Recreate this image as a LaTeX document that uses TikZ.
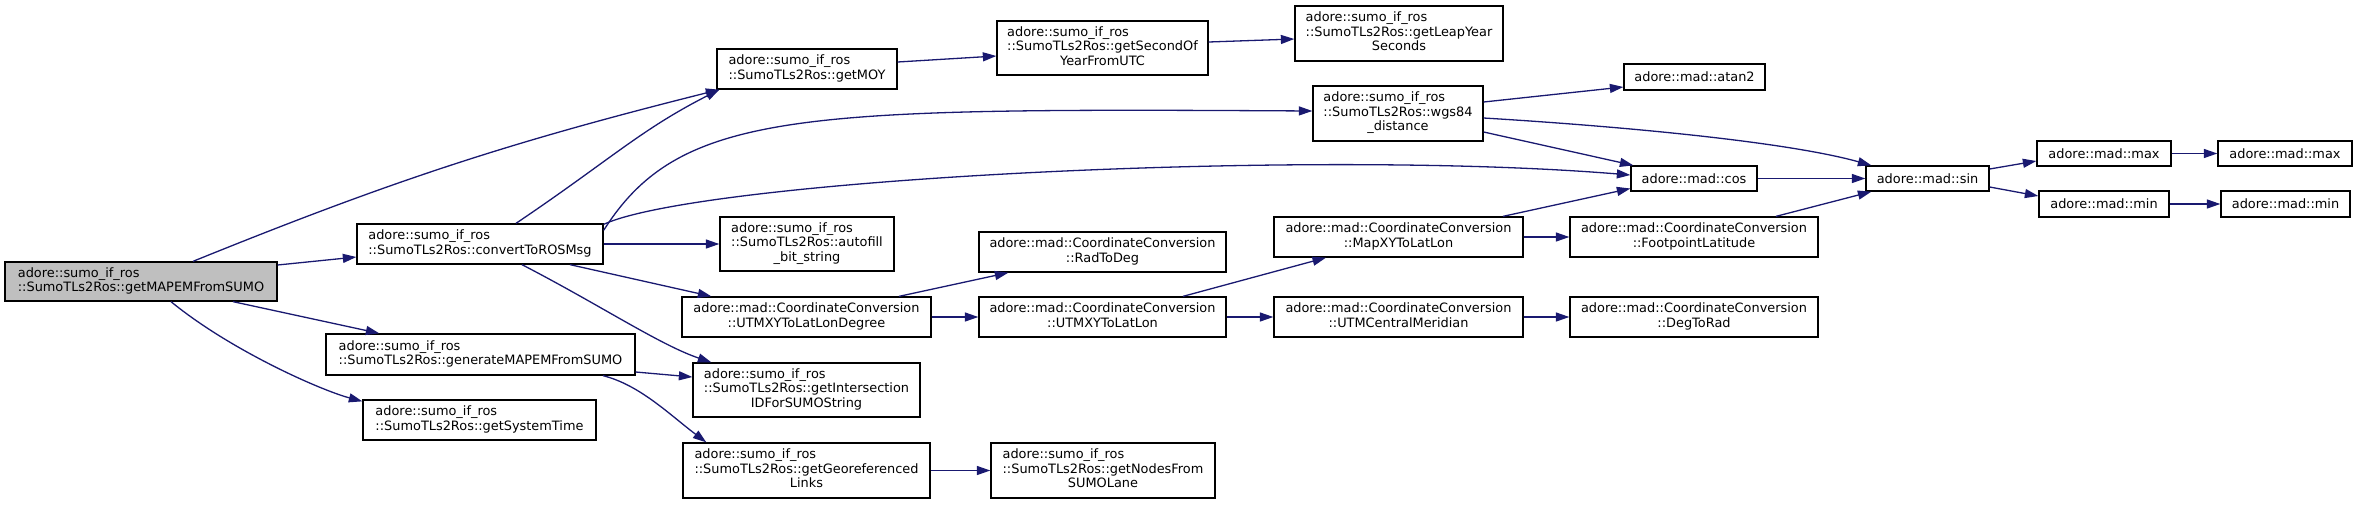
\documentclass[tikz,border=0pt]{standalone}
\usepackage{fontspec}
\setmainfont{DejaVu Sans}
\usetikzlibrary{arrows.meta}
\definecolor{edgec}{HTML}{191970}
\definecolor{rootfill}{HTML}{BFBFBF}
\newcommand\boxL[1]{\begin{tabular}{@{}l@{}}#1\end{tabular}}
\newcommand\boxC[1]{\begin{tabular}{@{}c@{}}#1\end{tabular}}
\newcommand\lastc[1]{\multicolumn{1}{@{}c@{}}{#1}}
\tikzset{
  nbox/.style={draw=black, line width=1.3pt, fill=white, inner sep=0pt,
    font=\fontsize{12.9}{14.5}\selectfont},
  edge/.style={draw=edgec, line width=1.3pt, -{Triangle[length=13.5pt,width=9pt]}},
  sz/.style 2 args={minimum width=#1pt, minimum height=#2pt}
}
\begin{document}
\begin{tikzpicture}[x=1pt,y=1pt]
\useasboundingbox (0,0) rectangle (2357,-504);
% nodes
\node[nbox, sz={272}{39}, fill=rootfill] (gm) at (141,-281.5) {\boxL{adore::sumo\_if\_ros\\::SumoTLs2Ros::getMAPEMFromSUMO}};
\node[nbox, sz={246}{40}] (conv) at (480,-244) {\boxL{adore::sumo\_if\_ros\\::SumoTLs2Ros::convertToROSMsg}};
\node[nbox, sz={180}{40}] (moy) at (807,-69) {\boxL{adore::sumo\_if\_ros\\::SumoTLs2Ros::getMOY}};
\node[nbox, sz={174}{54}] (auto) at (807,-244) {\boxL{adore::sumo\_if\_ros\\::SumoTLs2Ros::autofill\\\lastc{\_bit\_string}}};
\node[nbox, sz={249}{40}] (utmdeg) at (806.5,-317) {\boxC{adore::mad::CoordinateConversion\\::UTMXYToLatLonDegree}};
\node[nbox, sz={309}{41}] (gen) at (480.5,-354.5) {\boxL{adore::sumo\_if\_ros\\::SumoTLs2Ros::generateMAPEMFromSUMO}};
\node[nbox, sz={227}{54}] (inter) at (806.5,-390) {\boxL{adore::sumo\_if\_ros\\::SumoTLs2Ros::getIntersection\\\lastc{IDForSUMOString}}};
\node[nbox, sz={233}{40}] (sys) at (479.5,-420) {\boxL{adore::sumo\_if\_ros\\::SumoTLs2Ros::getSystemTime}};
\node[nbox, sz={247}{55}] (geo) at (806.5,-470.5) {\boxL{adore::sumo\_if\_ros\\::SumoTLs2Ros::getGeoreferenced\\\lastc{Links}}};
\node[nbox, sz={211}{54}] (sec) at (1102.5,-48) {\boxL{adore::sumo\_if\_ros\\::SumoTLs2Ros::getSecondOf\\\lastc{YearFromUTC}}};
\node[nbox, sz={208}{55}] (leap) at (1399,-33.5) {\boxL{adore::sumo\_if\_ros\\::SumoTLs2Ros::getLeapYear\\\lastc{Seconds}}};
\node[nbox, sz={170}{55}] (wgs) at (1398,-113.5) {\boxL{adore::sumo\_if\_ros\\::SumoTLs2Ros::wgs84\\\lastc{\_distance}}};
\node[nbox, sz={247}{40}] (rad) at (1102.5,-252) {\boxC{adore::mad::CoordinateConversion\\::RadToDeg}};
\node[nbox, sz={249}{40}] (mapxy) at (1398.5,-237) {\boxC{adore::mad::CoordinateConversion\\::MapXYToLatLon}};
\node[nbox, sz={247}{40}] (utmll) at (1102.5,-317) {\boxC{adore::mad::CoordinateConversion\\::UTMXYToLatLon}};
\node[nbox, sz={249}{40}] (utmcm) at (1398.5,-317) {\boxC{adore::mad::CoordinateConversion\\::UTMCentralMeridian}};
\node[nbox, sz={224}{55}] (nodes) at (1103,-470.5) {\boxL{adore::sumo\_if\_ros\\::SumoTLs2Ros::getNodesFrom\\\lastc{SUMOLane}}};
\node[nbox, sz={248}{40}] (foot) at (1694,-237) {\boxC{adore::mad::CoordinateConversion\\::FootpointLatitude}};
\node[nbox, sz={248}{40}] (deg) at (1694,-317) {\boxC{adore::mad::CoordinateConversion\\::DegToRad}};
\node[nbox, sz={141}{26}] (atan) at (1694.5,-77) {adore::mad::atan2};
\node[nbox, sz={126}{25}] (cos) at (1694,-178.5) {adore::mad::cos};
\node[nbox, sz={123}{25}] (sin) at (1927.5,-178.5) {adore::mad::sin};
\node[nbox, sz={134}{25}] (maxa) at (2104,-153.5) {adore::mad::max};
\node[nbox, sz={134}{25}] (maxb) at (2285,-153.5) {adore::mad::max};
\node[nbox, sz={130}{26}] (mina) at (2104,-204) {adore::mad::min};
\node[nbox, sz={129}{26}] (minb) at (2285.5,-204) {adore::mad::min};
% edges
\draw[edge] ([xshift=52pt]gm.north) to[bend left=4] ([xshift=3pt]moy.south west);
\draw[edge] ([yshift=16.5pt]gm.east) -- ([yshift=-13pt]conv.west);
\draw[edge] ([xshift=92pt]gm.south) -- ([xshift=54pt]gen.north west);
\draw[edge] ([xshift=30pt]gm.south) .. controls (230,-350) and (320,-390) .. ([yshift=-2pt]sys.north west);
\draw[edge] ([xshift=36pt]conv.north) .. controls (610,-160) and (640,-130) .. ([xshift=3pt]moy.south west);
\draw[edge] ([yshift=-7pt]conv.north east) .. controls (680,-110) and (800,-108) .. ([yshift=2.5pt]wgs.west);
\draw[edge] ([yshift=-1pt]conv.north east) .. controls (700,-180) and (1300,-148) .. ([yshift=3.5pt]cos.west);
\draw[edge] (conv.east) -- (auto.west);
\draw[edge] ([xshift=90pt]conv.south) -- ([xshift=30pt]utmdeg.north west);
\draw[edge] ([xshift=42pt]conv.south) .. controls (600,-305) and (660,-345) .. ([xshift=19pt]inter.north west);
\draw[edge] ([yshift=-17.5pt]gen.east) -- ([yshift=13pt]inter.west);
\draw[edge] ([xshift=122.5pt]gen.south) .. controls (640,-385) and (670,-415) .. ([xshift=24pt]geo.north west);
\draw[edge] (geo.east) -- (nodes.west);
\draw[edge] ([yshift=7pt]moy.east) -- ([yshift=-8pt]sec.west);
\draw[edge] ([yshift=6pt]sec.east) -- ([yshift=-5.5pt]leap.west);
\draw[edge] ([yshift=11.5pt]wgs.east) -- ([yshift=-10pt]atan.west);
\draw[edge] ([yshift=-4.5pt]wgs.east) .. controls (1600,-125) and (1780,-140) .. ([xshift=6pt]sin.north west);
\draw[edge] ([yshift=-18.5pt]wgs.east) -- ([xshift=3pt]cos.north west);
\draw[edge] ([xshift=104.5pt]mapxy.north) -- ([yshift=-10pt]cos.west);
\draw[edge] (mapxy.east) -- (foot.west);
\draw[edge] ([xshift=82pt]foot.north) -- ([xshift=6pt]sin.south west);
\draw[edge] (cos.east) -- (sin.west);
\draw[edge] ([yshift=9.5pt]sin.east) -- ([yshift=-7.5pt]maxa.west);
\draw[edge] ([yshift=-8.5pt]sin.east) -- ([yshift=8pt]mina.west);
\draw[edge] (maxa.east) -- (maxb.west);
\draw[edge] (mina.east) -- (minb.west);
\draw[edge] ([xshift=92.5pt]utmdeg.north) -- ([xshift=30pt]rad.south west);
\draw[edge] (utmdeg.east) -- (utmll.west);
\draw[edge] ([xshift=80.5pt]utmll.north) -- ([xshift=-72.5pt]mapxy.south);
\draw[edge] (utmll.east) -- (utmcm.west);
\draw[edge] (utmcm.east) -- (deg.west);
\end{tikzpicture}
\end{document}
